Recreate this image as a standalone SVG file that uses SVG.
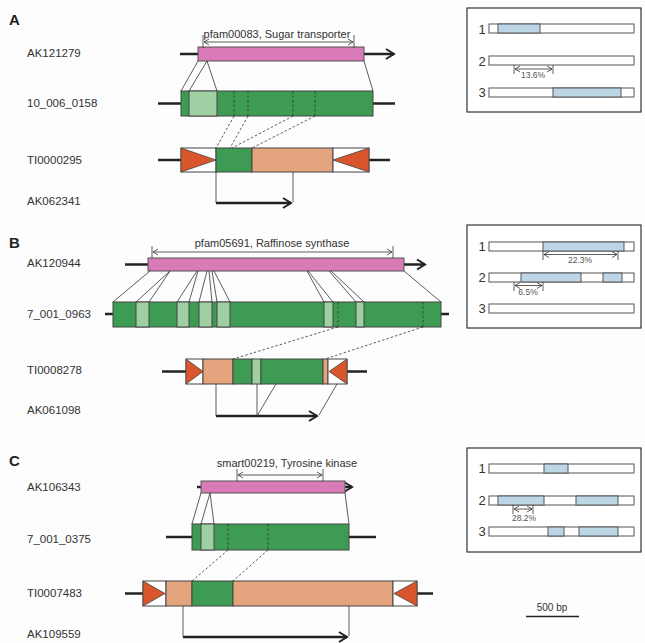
<svg xmlns="http://www.w3.org/2000/svg" width="645" height="643" viewBox="0 0 645 643">
<style>
text{font-family:"Liberation Sans",Arial,sans-serif;fill:#333}
.lbl{font-size:11.5px}
.pl{font-size:15px;font-weight:bold;fill:#222}
.ann{font-size:11px}
.num{font-size:13px}
.pct{font-size:8.5px;fill:#555}
.thk{stroke:#222;stroke-width:2.5;fill:none}
.thn{stroke:#333;stroke-width:0.8;fill:none}
.dsh{stroke:#333;stroke-width:0.8;stroke-dasharray:2.5,2;fill:none}
.pink{fill:#d87bb6;stroke:#555;stroke-width:1}
.dg{fill:#3d9b54;stroke:#444;stroke-width:1}
.lg{fill:#9fd0a3;stroke:#444;stroke-width:1}
.sal{fill:#e3a47e;stroke:#444;stroke-width:1}
.wh{fill:#fff;stroke:#444;stroke-width:1}
.tri{fill:#d9552c;stroke:#444;stroke-width:0.8}
.frame{fill:#fff;stroke:#333;stroke-width:1.2}
.bar{fill:#fff;stroke:#555;stroke-width:1}
.blue{fill:#bcd6e8;stroke:#555;stroke-width:1}
</style>
<defs>
<marker id="ah" markerUnits="userSpaceOnUse" viewBox="-10 -6 12 12" refX="0" refY="0" markerWidth="12" markerHeight="12" orient="auto">
<path d="M-8,-5 L0,0 L-8,5" fill="none" stroke="#222" stroke-width="2"/>
</marker>
<marker id="sa" markerUnits="userSpaceOnUse" viewBox="-7 -4 8 8" refX="0" refY="0" markerWidth="8" markerHeight="8" orient="auto-start-reverse">
<path d="M-5,-3 L0,0 L-5,3" fill="none" stroke="#333" stroke-width="0.8"/>
</marker>
</defs>
<rect x="0" y="0" width="645" height="643" fill="#fdfdfd"/>

<!-- Panel A -->
<g id="panelA-labels">
<text class="pl" x="9" y="25">A</text>
<text class="lbl" x="27" y="57">AK121279</text>
<text class="lbl" x="27" y="107">10_006_0158</text>
<text class="lbl" x="27" y="164">TI0000295</text>
<text class="lbl" x="27" y="205">AK062341</text>
</g>
<g id="A-AK121279">
<line class="thk" x1="180" y1="54" x2="198" y2="54"/>
<line class="thk" x1="364" y1="54" x2="394" y2="54" marker-end="url(#ah)"/>
<rect class="pink" x="198" y="47" width="166" height="14"/>
<line class="thn" x1="203" y1="35" x2="203" y2="48"/>
<line class="thn" x1="354" y1="35" x2="354" y2="48"/>
<line class="thn" x1="204" y1="42" x2="353" y2="42" marker-start="url(#sa)" marker-end="url(#sa)"/>
<text class="ann" x="277" y="38" text-anchor="middle">pfam00083, Sugar transporter</text>
</g>
<g id="A-10_006_0158">
<line class="thk" x1="158" y1="103.5" x2="181" y2="103.5"/>
<line class="thk" x1="373" y1="103.5" x2="395" y2="103.5"/>
<rect class="dg" x="181" y="91" width="192" height="25"/>
<rect class="lg" x="189" y="91" width="28" height="25"/>
<line class="dsh" x1="234" y1="91" x2="234" y2="116"/>
<line class="dsh" x1="248" y1="91" x2="248" y2="116"/>
<line class="dsh" x1="293" y1="91" x2="293" y2="116"/>
<line class="dsh" x1="315" y1="91" x2="315" y2="116"/>
</g>
<g id="A-TI0000295">
<line class="thk" x1="158" y1="160" x2="181" y2="160"/>
<line class="thk" x1="369" y1="160" x2="390" y2="160"/>
<rect class="wh" x="181" y="148" width="35" height="24"/>
<polygon class="tri" points="181,148 181,172 216,160"/>
<rect class="dg" x="216" y="148" width="36" height="24"/>
<rect class="sal" x="252" y="148" width="81" height="24"/>
<rect class="wh" x="333" y="148" width="36" height="24"/>
<polygon class="tri" points="369,148 369,172 333,160"/>
</g>
<g id="A-AK062341">
<line class="thk" x1="216" y1="203" x2="291" y2="203" marker-end="url(#ah)"/>
</g>
<g id="A-connectors">
<line class="thn" x1="198" y1="61" x2="181" y2="91"/>
<line class="thn" x1="207" y1="61" x2="189" y2="91"/>
<line class="thn" x1="207" y1="61" x2="217" y2="91"/>
<line class="thn" x1="364" y1="61" x2="373" y2="91"/>
<line class="dsh" x1="234" y1="116" x2="216" y2="148"/>
<line class="dsh" x1="248" y1="116" x2="230" y2="148"/>
<line class="dsh" x1="293" y1="116" x2="232" y2="148"/>
<line class="dsh" x1="315" y1="116" x2="252" y2="148"/>
<line class="thn" x1="216" y1="172" x2="216" y2="203"/>
<line class="thn" x1="293" y1="172" x2="293" y2="202"/>
</g>
<g id="A-box">
<rect class="frame" x="467" y="8" width="174" height="104"/>
<text class="num" x="482" y="34" text-anchor="middle">1</text>
<rect class="bar" x="489" y="24" width="145" height="9"/>
<rect class="blue" x="498" y="24" width="42" height="9"/>
<text class="num" x="482" y="66" text-anchor="middle">2</text>
<rect class="bar" x="489" y="56" width="145" height="9"/>
<line class="thn" x1="514" y1="65" x2="514" y2="74"/>
<line class="thn" x1="553" y1="65" x2="553" y2="74"/>
<line class="thn" x1="515" y1="69" x2="552" y2="69" marker-start="url(#sa)" marker-end="url(#sa)"/>
<text class="pct" x="533" y="78" text-anchor="middle">13.6%</text>
<text class="num" x="482" y="97" text-anchor="middle">3</text>
<rect class="bar" x="489" y="88" width="145" height="9"/>
<rect class="blue" x="553" y="88" width="68" height="9"/>
</g>

<!-- Panel B -->
<g id="panelB-labels">
<text class="pl" x="9" y="248">B</text>
<text class="lbl" x="27" y="267">AK120944</text>
<text class="lbl" x="27" y="318">7_001_0963</text>
<text class="lbl" x="27" y="374">TI0008278</text>
<text class="lbl" x="27" y="414">AK061098</text>
</g>
<g id="B-AK120944">
<line class="thk" x1="125" y1="264.5" x2="148" y2="264.5"/>
<line class="thk" x1="404" y1="264.5" x2="425" y2="264.5" marker-end="url(#ah)"/>
<rect class="pink" x="148" y="258" width="256" height="13"/>
<line class="thn" x1="152" y1="246" x2="152" y2="258"/>
<line class="thn" x1="393" y1="246" x2="393" y2="258"/>
<line class="thn" x1="153" y1="252" x2="392" y2="252" marker-start="url(#sa)" marker-end="url(#sa)"/>
<text class="ann" x="272" y="247" text-anchor="middle">pfam05691, Raffinose synthase</text>
</g>
<g id="B-7_001_0963">
<line class="thk" x1="105" y1="314" x2="113" y2="314"/>
<line class="thk" x1="441" y1="314" x2="449" y2="314"/>
<rect class="dg" x="113" y="302" width="328" height="25"/>
<rect class="lg" x="136" y="302" width="13" height="25"/>
<rect class="lg" x="177" y="302" width="12" height="25"/>
<rect class="lg" x="199" y="302" width="13" height="25"/>
<rect class="lg" x="217" y="302" width="13" height="25"/>
<rect class="lg" x="324" y="302" width="9" height="25"/>
<rect class="lg" x="356" y="302" width="8" height="25"/>
<line class="dsh" x1="338" y1="302" x2="338" y2="327"/>
<line class="dsh" x1="423" y1="302" x2="423" y2="327"/>
</g>
<g id="B-TI0008278">
<line class="thk" x1="162" y1="371.5" x2="186" y2="371.5"/>
<line class="thk" x1="347" y1="371.5" x2="367" y2="371.5"/>
<rect class="wh" x="186" y="359" width="17" height="25"/>
<polygon class="tri" points="186,359 186,384 203,371.5"/>
<rect class="sal" x="203" y="359" width="30" height="25"/>
<rect class="dg" x="233" y="359" width="19" height="25"/>
<rect class="lg" x="252" y="359" width="9" height="25"/>
<rect class="dg" x="261" y="359" width="62" height="25"/>
<rect class="sal" x="323" y="359" width="5" height="25"/>
<rect class="wh" x="328" y="359" width="19" height="25"/>
<polygon class="tri" points="347,359 347,384 329,371.5"/>
</g>
<g id="B-AK061098">
<line class="thk" x1="216" y1="416" x2="317" y2="416" marker-end="url(#ah)"/>
</g>
<g id="B-connectors">
<line class="thn" x1="150" y1="271" x2="113" y2="302"/>
<line class="thn" x1="170" y1="271" x2="136" y2="302"/>
<line class="thn" x1="170" y1="271" x2="149" y2="302"/>
<line class="thn" x1="197" y1="271" x2="177" y2="302"/>
<line class="thn" x1="198" y1="271" x2="189" y2="302"/>
<line class="thn" x1="207" y1="271" x2="199" y2="302"/>
<line class="thn" x1="209" y1="271" x2="212" y2="302"/>
<line class="thn" x1="212" y1="271" x2="217" y2="302"/>
<line class="thn" x1="214" y1="271" x2="230" y2="302"/>
<line class="thn" x1="307" y1="271" x2="324" y2="302"/>
<line class="thn" x1="308" y1="271" x2="333" y2="302"/>
<line class="thn" x1="329" y1="271" x2="356" y2="302"/>
<line class="thn" x1="331" y1="271" x2="364" y2="302"/>
<line class="thn" x1="404" y1="271" x2="441" y2="302"/>
<line class="dsh" x1="338" y1="327" x2="233" y2="359"/>
<line class="dsh" x1="423" y1="327" x2="325" y2="359"/>
<line class="thn" x1="216" y1="384" x2="216" y2="416"/>
<line class="thn" x1="257" y1="384" x2="257" y2="416"/>
<line class="thn" x1="257" y1="416" x2="276" y2="384"/>
<line class="thn" x1="337" y1="384" x2="319" y2="415"/>
</g>
<g id="B-box">
<rect class="frame" x="467" y="225" width="174" height="103"/>
<text class="num" x="482" y="251" text-anchor="middle">1</text>
<rect class="bar" x="489" y="242" width="145" height="9"/>
<rect class="blue" x="543" y="242" width="81" height="9"/>
<line class="thn" x1="543" y1="251" x2="543" y2="260"/>
<line class="thn" x1="618" y1="251" x2="618" y2="260"/>
<line class="thn" x1="544" y1="254.5" x2="617" y2="254.5" marker-start="url(#sa)" marker-end="url(#sa)"/>
<text class="pct" x="580" y="263" text-anchor="middle">22.3%</text>
<text class="num" x="482" y="282" text-anchor="middle">2</text>
<rect class="bar" x="489" y="273" width="145" height="9"/>
<rect class="blue" x="521" y="273" width="60" height="9"/>
<rect class="blue" x="603" y="273" width="19" height="9"/>
<line class="thn" x1="514" y1="282" x2="514" y2="291"/>
<line class="thn" x1="543" y1="282" x2="543" y2="291"/>
<line class="thn" x1="515" y1="285.5" x2="542" y2="285.5" marker-start="url(#sa)" marker-end="url(#sa)"/>
<text class="pct" x="528" y="295" text-anchor="middle">6.5%</text>
<text class="num" x="482" y="313" text-anchor="middle">3</text>
<rect class="bar" x="489" y="304" width="145" height="9"/>
</g>

<!-- Panel C -->
<g id="panelC-labels">
<text class="pl" x="9" y="466">C</text>
<text class="lbl" x="27" y="491">AK106343</text>
<text class="lbl" x="27" y="543">7_001_0375</text>
<text class="lbl" x="27" y="597">TI0007483</text>
<text class="lbl" x="27" y="638">AK109559</text>
</g>
<g id="C-AK106343">
<line class="thk" x1="197" y1="487" x2="201" y2="487"/>
<line class="thk" x1="345" y1="487" x2="352" y2="487" marker-end="url(#ah)"/>
<rect class="pink" x="201" y="481" width="144" height="12"/>
<line class="thn" x1="237" y1="469" x2="237" y2="481"/>
<line class="thn" x1="323" y1="469" x2="323" y2="481"/>
<line class="thn" x1="238" y1="475" x2="322" y2="475" marker-start="url(#sa)" marker-end="url(#sa)"/>
<text class="ann" x="287" y="467" text-anchor="middle">smart00219, Tyrosine kinase</text>
</g>
<g id="C-7_001_0375">
<line class="thk" x1="166" y1="537" x2="192" y2="537"/>
<line class="thk" x1="349" y1="537" x2="376" y2="537"/>
<rect class="dg" x="192" y="524" width="157" height="26"/>
<rect class="lg" x="201" y="524" width="13" height="26"/>
<line class="dsh" x1="228" y1="524" x2="228" y2="550"/>
<line class="dsh" x1="268" y1="524" x2="268" y2="550"/>
</g>
<g id="C-TI0007483">
<line class="thk" x1="125" y1="593.5" x2="143" y2="593.5"/>
<line class="thk" x1="417" y1="593.5" x2="433" y2="593.5"/>
<rect class="wh" x="143" y="581" width="23" height="25"/>
<polygon class="tri" points="143,581 143,606 165,593.5"/>
<rect class="sal" x="166" y="581" width="26" height="25"/>
<rect class="dg" x="192" y="581" width="41" height="25"/>
<rect class="sal" x="233" y="581" width="160" height="25"/>
<rect class="wh" x="393" y="581" width="24" height="25"/>
<polygon class="tri" points="417,581 417,606 394,593.5"/>
</g>
<g id="C-AK109559">
<line class="thk" x1="183" y1="637" x2="347" y2="637" marker-end="url(#ah)"/>
</g>
<g id="C-connectors">
<line class="thn" x1="201" y1="493" x2="192" y2="524"/>
<line class="thn" x1="210" y1="493" x2="201" y2="524"/>
<line class="thn" x1="210" y1="493" x2="214" y2="524"/>
<line class="thn" x1="345" y1="493" x2="349" y2="524"/>
<line class="dsh" x1="228" y1="550" x2="192" y2="581"/>
<line class="dsh" x1="268" y1="550" x2="233" y2="581"/>
<line class="thn" x1="183" y1="606" x2="183" y2="637"/>
<line class="thn" x1="349" y1="606" x2="349" y2="636"/>
</g>
<g id="C-box">
<rect class="frame" x="467" y="448" width="174" height="104"/>
<text class="num" x="482" y="473" text-anchor="middle">1</text>
<rect class="bar" x="489" y="464" width="145" height="9"/>
<rect class="blue" x="544" y="464" width="24" height="9"/>
<text class="num" x="482" y="505" text-anchor="middle">2</text>
<rect class="bar" x="489" y="496" width="145" height="9"/>
<rect class="blue" x="498" y="496" width="46" height="9"/>
<rect class="blue" x="576" y="496" width="42" height="9"/>
<line class="thn" x1="513" y1="505" x2="513" y2="514"/>
<line class="thn" x1="533" y1="505" x2="533" y2="514"/>
<line class="thn" x1="514" y1="509" x2="532" y2="509" marker-start="url(#sa)" marker-end="url(#sa)"/>
<text class="pct" x="524" y="521" text-anchor="middle">28.2%</text>
<text class="num" x="482" y="536" text-anchor="middle">3</text>
<rect class="bar" x="489" y="527" width="145" height="9"/>
<rect class="blue" x="548" y="527" width="16" height="9"/>
<rect class="blue" x="579" y="527" width="39" height="9"/>
</g>
<g id="scale">
<text class="ann" x="552" y="611" text-anchor="middle" style="font-size:10px">500 bp</text>
<line x1="526" y1="616.5" x2="579" y2="616.5" stroke="#222" stroke-width="1.5"/>
</g>
</svg>
